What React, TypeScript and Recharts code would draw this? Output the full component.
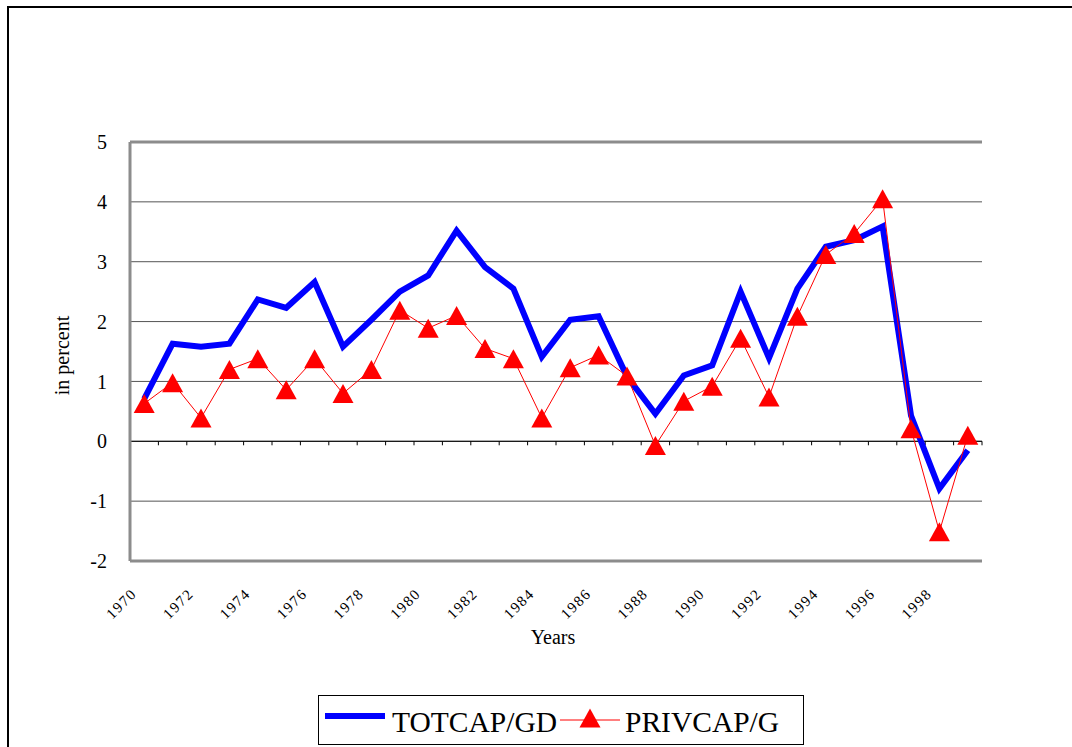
import React from 'react';
import { LineChart, Line, XAxis, YAxis, CartesianGrid, ReferenceLine } from 'recharts';

const years = [
  '1970', '1971', '1972', '1973', '1974', '1975', '1976', '1977', '1978', '1979',
  '1980', '1981', '1982', '1983', '1984', '1985', '1986', '1987', '1988', '1989',
  '1990', '1991', '1992', '1993', '1994', '1995', '1996', '1997', '1998', '1999',
];

const totcap = [
  0.71, 1.63, 1.58, 1.63, 2.37, 2.23, 2.66, 1.58, 2.03, 2.5,
  2.77, 3.52, 2.91, 2.55, 1.41, 2.03, 2.09, 1.08, 0.46, 1.1,
  1.27, 2.5, 1.39, 2.55, 3.25, 3.36, 3.59, 0.43, -0.79, -0.15,
];

const privcap = [
  0.63, 0.98, 0.39, 1.2, 1.38, 0.86, 1.38, 0.8, 1.2, 2.19,
  1.89, 2.1, 1.55, 1.38, 0.39, 1.23, 1.44, 1.09, -0.07, 0.67,
  0.92, 1.72, 0.74, 2.09, 3.12, 3.47, 4.05, 0.21, -1.51, 0.1,
];

const yTicks = [-2, -1, 0, 1, 2, 3, 4, 5];

const data = years.map((year, i) => ({ year, totcap: totcap[i], privcap: privcap[i] }));

const FONT = "'Liberation Serif', 'Times New Roman', serif";
const FRAME = '#8c8c8c';

// red triangle marker, centred on the point
function Triangle(props: any) {
  const { cx, cy } = props;
  if (cx == null || cy == null) return null;
  return (
    <path
      d={`M${cx},${cy - 9.5}L${cx + 10.5},${cy + 9.5}L${cx - 10.5},${cy + 9.5}Z`}
      fill="#ff0000"
    />
  );
}

// zero line with small ticks between the categories
function ZeroAxis(props: any) {
  const { x1, x2, y1 } = props;
  const step = (x2 - x1) / years.length;
  return (
    <g>
      <line x1={x1} x2={x2} y1={y1} y2={y1} stroke="#000" />
      {years.map((y, i) => {
        const x = x1 + step * (i + 1);
        return <line key={y} x1={x} x2={x} y1={y1} y2={y1 + 4} stroke="#000" />;
      })}
    </g>
  );
}

function YTitle(props: any) {
  const { x, y, height } = props.viewBox;
  const cx = x - 8;
  const cy = y + height / 2 + 4;
  return (
    <text x={cx} y={cy} transform={`rotate(-90 ${cx} ${cy})`} textAnchor="middle"
      dominantBaseline="central" fontSize={20} fontFamily={FONT} fill="#000">
      in percent
    </text>
  );
}

function XTitle(props: any) {
  const { x, y, width } = props.viewBox;
  return (
    <text x={x + width / 2 - 3} y={y + 76} textAnchor="middle" dominantBaseline="central"
      fontSize={20} fontFamily={FONT} fill="#000">
      Years
    </text>
  );
}

function ChartLegend() {
  return (
    <svg width={486} height={50} style={{ position: 'absolute', left: 318, top: 695 }}>
      <rect x={0.5} y={0.5} width={485} height={49} fill="#fff" stroke="#000" />
      <line x1={7} x2={67} y1={21} y2={21} stroke="#0000ff" strokeWidth={6} />
      <text x={74} y={37} fontSize={29.5} fontFamily={FONT} fill="#000">TOTCAP/GD</text>
      <line x1={242} x2={302} y1={25} y2={25} stroke="#ff0000" strokeWidth={1} />
      <Triangle cx={272} cy={23} />
      <text x={307} y={37} fontSize={29.5} fontFamily={FONT} fill="#000">PRIVCAP/G</text>
    </svg>
  );
}

export default function App() {
  return (
    <div style={{ position: 'relative', width: 1072, height: 747, overflow: 'hidden', background: '#fff' }}>
      <style>{'html,body{margin:0;padding:0;overflow:hidden;}'}</style>
      <LineChart width={1072} height={747} data={data} margin={{ top: 142, right: 90, left: 70, bottom: 126 }}>
        <CartesianGrid vertical={false} stroke="#555" />
        <XAxis
          dataKey="year"
          scale="band"
          height={60}
          interval={1}
          angle={-45}
          textAnchor="end"
          tickLine={false}
          tickSize={0}
          tickMargin={26}
          dx={-14}
          axisLine={{ stroke: FRAME, strokeWidth: 3 }}
          tick={{ fontSize: 15, fill: '#000', fontFamily: FONT, letterSpacing: 1.5 }}
          label={<XTitle />}
        />
        <YAxis
          width={60}
          domain={[-2, 5]}
          ticks={yTicks}
          interval={0}
          tickLine={false}
          tickSize={0}
          tickMargin={23}
          axisLine={{ stroke: FRAME, strokeWidth: 3 }}
          tick={{ fontSize: 20, fill: '#000', fontFamily: FONT }}
          label={<YTitle />}
        />
        <YAxis
          yAxisId="r"
          orientation="right"
          width={0}
          domain={[-2, 5]}
          tick={false}
          tickLine={false}
          axisLine={{ stroke: FRAME, strokeWidth: 3 }}
        />
        <ReferenceLine y={5} stroke={FRAME} strokeWidth={3} />
        <ReferenceLine y={0} shape={<ZeroAxis />} />
        <Line
          dataKey="totcap"
          stroke="#0000ff"
          strokeWidth={6}
          dot={false}
          isAnimationActive={false}
        />
        <Line
          dataKey="privcap"
          stroke="#ff0000"
          strokeWidth={1}
          dot={<Triangle />}
          activeDot={false}
          isAnimationActive={false}
        />
      </LineChart>
      <ChartLegend />
      {/* outer frame, only its top and left edges fall inside the picture */}
      <div style={{ position: 'absolute', left: 7, top: 6, width: 1065, height: 2, background: '#000' }} />
      <div style={{ position: 'absolute', left: 7, top: 6, width: 2, height: 741, background: '#000' }} />
    </div>
  );
}
